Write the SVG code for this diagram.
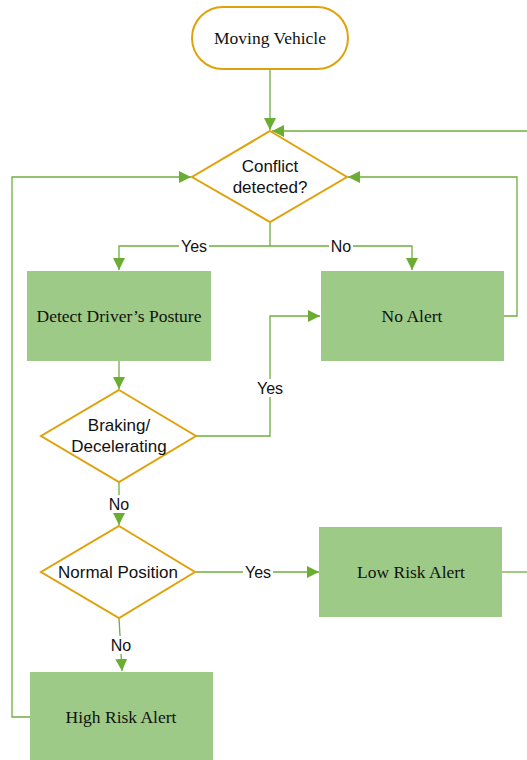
<svg xmlns="http://www.w3.org/2000/svg" width="527" height="760" viewBox="0 0 527 760">
<style>
.ln{fill:none;stroke:#6fae3e;stroke-width:1.3}
.box{fill:#9dca86}
.dia{fill:#fff;stroke:#e0a20c;stroke-width:2}
.st{font-family:"Liberation Serif",serif;font-size:17.5px;fill:#111;text-anchor:middle}
.ss{font-family:"Liberation Sans",sans-serif;font-size:16px;fill:#111;text-anchor:middle}
.sd{font-size:17px}
.lb{fill:#fff}
</style>
<defs>
<marker id="ah" viewBox="0 0 12 12" refX="12" refY="6" markerWidth="12" markerHeight="12" markerUnits="userSpaceOnUse" orient="auto">
<path d="M0,0 L12,6 L0,12 Z" fill="#6aad32"/>
</marker>
</defs>
<g id="connectors">
<path class="ln" d="M270,69 V130" marker-end="url(#ah)"/>
<path class="ln" d="M527,131 H272" marker-end="url(#ah)"/>
<path class="ln" d="M503,316 H517 V177 H348" marker-end="url(#ah)"/>
<path class="ln" d="M270,222 V246"/>
<path class="ln" d="M270,246 H119 V270" marker-end="url(#ah)"/>
<path class="ln" d="M270,246 H412 V270" marker-end="url(#ah)"/>
<path class="ln" d="M119,361 V389" marker-end="url(#ah)"/>
<path class="ln" d="M196,436 H270 V316 H320" marker-end="url(#ah)"/>
<path class="ln" d="M119,482 V525" marker-end="url(#ah)"/>
<path class="ln" d="M196,572 H319" marker-end="url(#ah)"/>
<path class="ln" d="M501,572 H527"/>
<path class="ln" d="M119,618 L122,671" marker-end="url(#ah)"/>
<path class="ln" d="M30,717 H12 V177 H191" marker-end="url(#ah)"/>
<rect class="lb" x="179" y="237" width="30" height="18"/>
<text class="ss" x="194" y="252">Yes</text>
<rect class="lb" x="329" y="237" width="24" height="18"/>
<text class="ss" x="341" y="252">No</text>
<rect class="lb" x="255" y="379" width="30" height="18"/>
<text class="ss" x="270" y="394">Yes</text>
<rect class="lb" x="107" y="495" width="24" height="18"/>
<text class="ss" x="119" y="510">No</text>
<rect class="lb" x="243" y="563" width="30" height="18"/>
<text class="ss" x="258" y="578">Yes</text>
<rect class="lb" x="109" y="636" width="24" height="18"/>
<text class="ss" x="121" y="651">No</text>
</g>
<g id="moving-vehicle">
<rect x="192" y="7" width="156" height="62" rx="31" fill="#fff" stroke="#e0a20c" stroke-width="2"/>
<text class="st" x="270" y="44">Moving Vehicle</text>
</g>
<g id="conflict">
<path class="dia" d="M270,131 L347,177 L270,222 L192,177 Z"/>
<text class="ss sd" x="270" y="172">Conflict</text>
<text class="ss sd" x="270" y="193">detected?</text>
</g>
<g id="detect-posture">
<rect class="box" x="27" y="271" width="184" height="90"/>
<text class="st" x="119" y="322">Detect Driver’s Posture</text>
</g>
<g id="no-alert">
<rect class="box" x="321" y="271" width="183" height="90"/>
<text class="st" x="412" y="322">No Alert</text>
</g>
<g id="braking">
<path class="dia" d="M119,390 L196,436 L119,482 L41,436 Z"/>
<text class="ss sd" x="119" y="431">Braking/</text>
<text class="ss sd" x="119" y="452">Decelerating</text>
</g>
<g id="normal-position">
<path class="dia" d="M119,526 L195,572 L119,618 L41,572 Z"/>
<text class="ss sd" x="118" y="578">Normal Position</text>
</g>
<g id="low-risk">
<rect class="box" x="319" y="527" width="183" height="90"/>
<text class="st" x="411" y="578">Low Risk Alert</text>
</g>
<g id="high-risk">
<rect class="box" x="30" y="672" width="183" height="90"/>
<text class="st" x="121" y="723">High Risk Alert</text>
</g>
</svg>
